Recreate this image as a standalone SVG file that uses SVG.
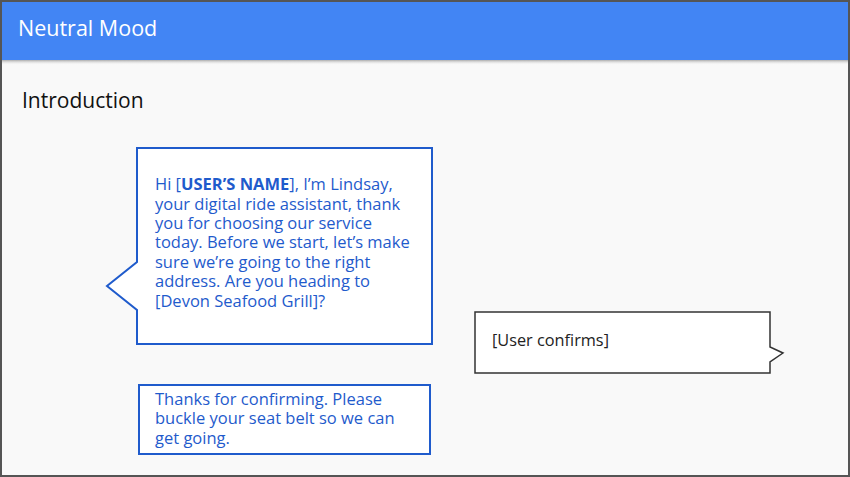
<svg xmlns="http://www.w3.org/2000/svg" width="850" height="477" viewBox="0 0 850 477">
<defs>
<linearGradient id="sh" x1="0" y1="0" x2="0" y2="1">
<stop offset="0" stop-color="#999" stop-opacity="0.8"/>
<stop offset="1" stop-color="#f9f9f9" stop-opacity="0"/>
</linearGradient>
</defs>
<style>
.t{font-family:"Open Sans","Noto Sans","DejaVu Sans",sans-serif;}
.blue{fill:#1f5bcc;font-size:16.5px;}
.bub{fill:#fff;stroke:#1f5bcc;stroke-width:2;}
</style>
<rect x="0" y="0" width="850" height="477" fill="#f9f9f9"/>
<rect x="2" y="2" width="846" height="58" fill="#4285f4"/>
<rect x="2" y="60" width="846" height="5" fill="url(#sh)"/>
<rect x="1" y="1" width="848" height="475" fill="none" stroke="#555" stroke-width="2"/>
<text class="t" x="18" y="36" font-size="21.5" fill="#fff">Neutral Mood</text>
<text class="t" x="22" y="108" font-size="21" fill="#111">Introduction</text>
<g id="bubble-lindsay">
<path class="bub" d="M137,148 H432 V344 H137 V310 L107,286 L137,262 Z"/>
<text class="t blue"><tspan x="155" y="190">Hi [<tspan font-weight="bold">USER’S NAME</tspan>], I’m Lindsay,</tspan><tspan x="155" y="210">your digital ride assistant, thank</tspan><tspan x="155" y="229">you for choosing our service</tspan><tspan x="155" y="248">today. Before we start, let’s make</tspan><tspan x="155" y="268">sure we’re going to the right</tspan><tspan x="155" y="287">address. Are you heading to</tspan><tspan x="155" y="307">[Devon Seafood Grill]?</tspan></text>
</g>
<g id="bubble-user">
<path d="M475,312 H770 V347 L783,353 L770,362 V373 H475 Z" fill="#fff" stroke="#333" stroke-width="1.5"/>
<text class="t" x="492" y="346" font-size="16.3" fill="#222">[User confirms]</text>
</g>
<g id="box-thanks">
<rect class="bub" x="139" y="385" width="291" height="69"/>
<text class="t blue"><tspan x="155" y="405">Thanks for confirming. Please</tspan><tspan x="155" y="424">buckle your seat belt so we can</tspan><tspan x="155" y="444">get going.</tspan></text>
</g>
<g id="connectors"></g>
</svg>
